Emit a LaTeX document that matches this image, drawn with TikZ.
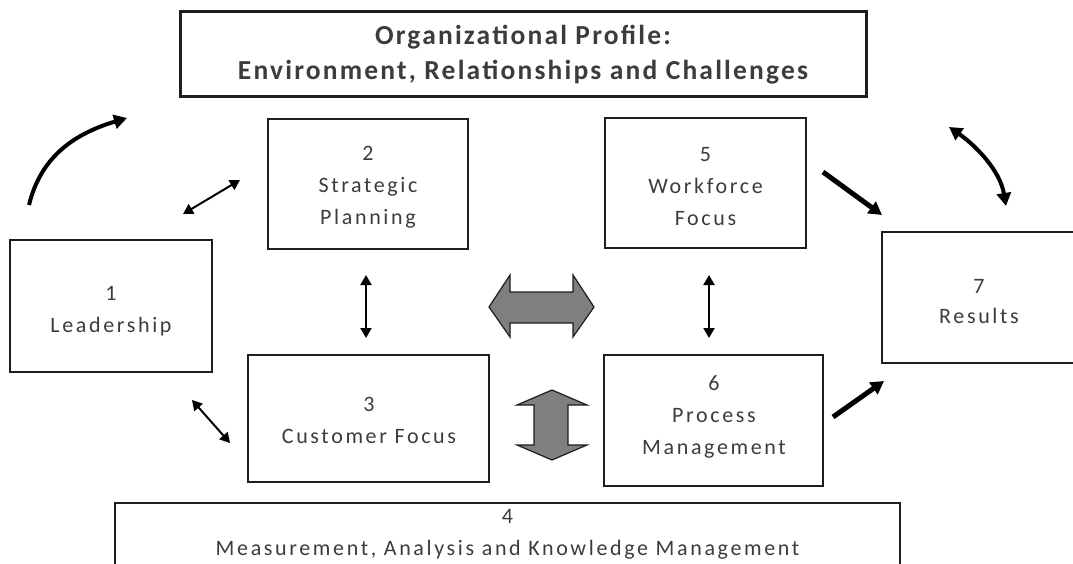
\documentclass[tikz,border=0pt]{standalone}
\usepackage{fontspec}
\setmainfont{Carlito}
\newfontfamily\spacedfont[LetterSpace=12]{Carlito}
\newfontfamily\titlefont[LetterSpace=8]{Carlito}
\usetikzlibrary{arrows.meta}
\definecolor{txt}{HTML}{3C3C3C}
\definecolor{edge}{HTML}{1E1E1E}
\definecolor{fillg}{HTML}{7F7F7F}
\begin{document}
\begin{tikzpicture}[x=1pt,y=-1pt,
  box/.style={draw=edge, line width=1.5pt, rectangle, inner sep=0pt},
  lbl/.style={text=txt, font=\spacedfont\fontsize{22}{32}\selectfont, align=center, inner sep=0pt},
  titlelbl/.style={text=txt, font=\titlefont\bfseries\fontsize{27.5}{35}\selectfont, align=center, inner sep=0pt},
  thinarr/.style={line width=2pt, {Triangle[length=10pt,width=11pt]}-{Triangle[length=10pt,width=11pt]}},
  thickarr/.style={line width=5pt, -{Triangle[length=13pt,width=14pt]}},
  curvearr/.style={line width=4pt, line cap=butt, -{Triangle[length=13pt,width=14pt]}},
  curvedbl/.style={line width=4pt, {Triangle[length=13pt,width=14pt]}-{Triangle[length=13pt,width=14pt]}},
  fatarr/.style={fill=fillg, draw=edge, line width=1.2pt, line join=miter}]
\useasboundingbox (0,0) rectangle (1073,564);

% boxes
\node[box, line width=3pt, minimum width=686, minimum height=85] (prof) at (523,54.5) {};
\node[titlelbl] at (523,55) {Organizational Profile:\\Environment, Relationships and Challenges};

\node[box, minimum width=202, minimum height=132] (b1) at (111,306) {};
\node[lbl] at (111,311) {1\\Leadership};

\node[box, minimum width=200, minimum height=130] (b2) at (368,184) {};
\node[lbl] at (368,187) {2\\Strategic\\Planning};

\node[box, minimum width=201, minimum height=130] (b5) at (705.5,183) {};
\node[lbl] at (705.5,187) {5\\Workforce\\Focus};

\node[box, minimum width=241, minimum height=127] (b3) at (368.5,418.5) {};
\node[lbl] at (369,420.5) {3\\Customer Focus};

\node[box, minimum width=219, minimum height=131] (b6) at (713.5,420.5) {};
\node[lbl] at (714,417) {6\\Process\\Management};

\node[box, minimum width=196, minimum height=131] (b7) at (980,297.5) {};
\node[lbl, font=\spacedfont\fontsize{22}{30}\selectfont] at (979,301.5) {7\\Results};

\node[box, minimum width=785, minimum height=80] (b4) at (507.5,543) {};
\node[lbl] at (507.5,534.5) {4\\Measurement, Analysis and Knowledge Management};

% connector end points
\coordinate (c12a) at (183,214); \coordinate (c12b) at (240,180);
\coordinate (c13a) at (192,400); \coordinate (c13b) at (230,443);
\coordinate (c23a) at (366,275); \coordinate (c23b) at (366,338);
\coordinate (c56a) at (709,275); \coordinate (c56b) at (709,338);
\coordinate (c57a) at (823,172); \coordinate (c57b) at (882,215);
\coordinate (c67a) at (833,417); \coordinate (c67b) at (884,381);
\coordinate (cla) at (29,205); \coordinate (clb) at (127,118);
\coordinate (cra) at (949,127); \coordinate (crb) at (1006,206);

\draw[thinarr] (c12a) -- (c12b);
\draw[thinarr] (c13a) -- (c13b);
\draw[thinarr] (c23a) -- (c23b);
\draw[thinarr] (c56a) -- (c56b);
\draw[thickarr] (c57a) -- (c57b);
\draw[thickarr] (c67a) -- (c67b);
\draw[curvearr] (cla) .. controls (40,160) and (70,135) .. (clb);
\draw[curvedbl] (cra) .. controls (975,145) and (1000,170) .. (crb);

% big grey double arrows
\draw[fatarr] (489,307) -- (510,275) -- (510,292) -- (573,292) -- (573,275) -- (594,307)
  -- (573,337) -- (573,323) -- (510,323) -- (510,337) -- cycle;
\draw[fatarr] (552,390) -- (587,405) -- (568,405) -- (568,445) -- (587,445) -- (552,460)
  -- (517,445) -- (534,445) -- (534,405) -- (517,405) -- cycle;
\end{tikzpicture}
\end{document}
